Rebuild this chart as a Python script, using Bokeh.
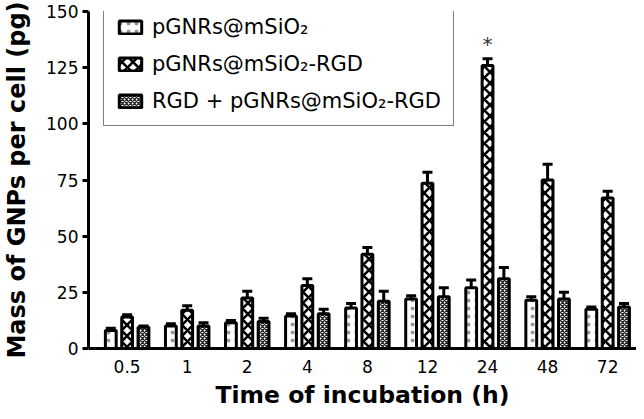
import numpy as np
from bokeh.plotting import figure
from bokeh.models import Range1d, FixedTicker, Whisker, TeeHead, ColumnDataSource
from bokeh.core.properties import value
from bokeh.embed import file_html
from bokeh.resources import INLINE

# ---- data ----
times = ["0.5", "1", "2", "4", "8", "12", "24", "48", "72"]
series_names = ["pGNRs@mSiO\u2082", "pGNRs@mSiO\u2082-RGD", "RGD + pGNRs@mSiO\u2082-RGD"]
s1_vals = [8, 10, 11.5, 14.5, 18, 22, 27, 21.5, 17.5]
s1_err = [1, 1, 1, 1, 2, 1.5, 3.5, 1.5, 1]
s2_vals = [14, 17, 22.5, 28, 42, 73.5, 126, 75, 67]
s2_err = [1, 2, 3, 3, 3, 5, 3, 7, 3]
s3_vals = [9.5, 10, 12, 15.5, 21, 23, 31, 22, 18.5]
s3_err = [0.5, 1.5, 1.5, 2, 4.5, 4, 5, 3, 1.5]
y_ticks = [0, 25, 50, 75, 100, 125, 150]
star_group = "24"

FONT = "DejaVu Sans"
idx = np.arange(len(times))

p = figure(width=636, height=411, output_backend="svg", toolbar_location=None,
           x_range=Range1d(-0.643, 8.48), y_range=Range1d(0, 150),
           min_border_left=82, min_border_right=0, min_border_top=11, min_border_bottom=57)
p.grid.visible = False
p.outline_line_color = None
p.background_fill_color = "white"

styles = [
    dict(hatch_pattern="dot", hatch_color="#999999", hatch_scale=8, hatch_weight=1.0),
    dict(hatch_pattern="diagonal_cross", hatch_color="black", hatch_scale=11, hatch_weight=2.6),
    dict(hatch_pattern="diagonal_cross", hatch_color="#222222", hatch_scale=4, hatch_weight=1.3),
]
offsets = [-0.272, 0.0, 0.272]
vals = [s1_vals, s2_vals, s3_vals]
errs = [s1_err, s2_err, s3_err]

for name, v, e, off, st in zip(series_names, vals, errs, offsets, styles):
    src = ColumnDataSource(dict(x=idx + off, top=v, upper=np.array(v) + np.array(e)))
    p.add_layout(Whisker(source=src, base="x", lower="top", upper="upper", dimension="height",
                         line_width=3, line_color="black",
                         upper_head=TeeHead(size=10, line_width=3, line_color="black"),
                         lower_head=None, level="glyph"))
    p.vbar(x="x", top="top", width=0.18, source=src, fill_color="white",
           line_color="black", line_width=3, legend_label=name, **st)

si = times.index(star_group)
p.text(x=[si + offsets[1]], y=[s2_vals[si] + s2_err[si]], text=["*"],
       text_align="center", text_baseline="bottom", text_font_size="20px",
       text_font=value(FONT), text_color="#333333", y_offset=-3)

# axes
p.xaxis.ticker = FixedTicker(ticks=list(idx))
p.xaxis.major_label_overrides = {int(i): t for i, t in zip(idx, times)}
p.xaxis.minor_tick_line_color = None
p.yaxis.ticker = FixedTicker(ticks=y_ticks)
p.yaxis.minor_tick_line_color = None
p.yaxis.major_tick_out = 6
p.yaxis.major_tick_in = 0
p.yaxis.major_tick_line_width = 3
for ax in (p.xaxis, p.yaxis):
    ax.axis_line_width = 3
    ax.axis_line_color = "black"
    ax.major_label_text_font = FONT
    ax.major_label_text_font_size = "17px"
    ax.major_label_text_color = "black"
    ax.axis_label_text_font = FONT
    ax.axis_label_text_font_style = "bold"
    ax.axis_label_text_color = "black"
p.xaxis.major_tick_line_color = None
p.yaxis.major_tick_line_color = "black"
p.xaxis.axis_label_text_font_size = "23.5px"
p.yaxis.axis_label_text_font_size = "24px"
p.xaxis.major_label_standoff = 5
p.xaxis.axis_label_standoff = 5
p.yaxis.major_label_standoff = 4
p.yaxis.axis_label_standoff = 12
p.xaxis.axis_label = "Time of incubation (h)"
p.yaxis.axis_label = "Mass of GNPs per cell (pg)"

lg = p.legend[0]
lg.location = (15, 222)
lg.border_line_color = "black"
lg.border_line_width = 1.5
lg.background_fill_alpha = 1
lg.padding = 12
lg.spacing = 13
lg.margin = 0
lg.glyph_width = 28
lg.glyph_height = 16
lg.label_height = 22
lg.label_standoff = 8
lg.label_text_font = FONT
lg.label_text_font_size = "21px"
lg.label_text_color = "black"

open("out.html", "w").write(file_html(p, INLINE))
